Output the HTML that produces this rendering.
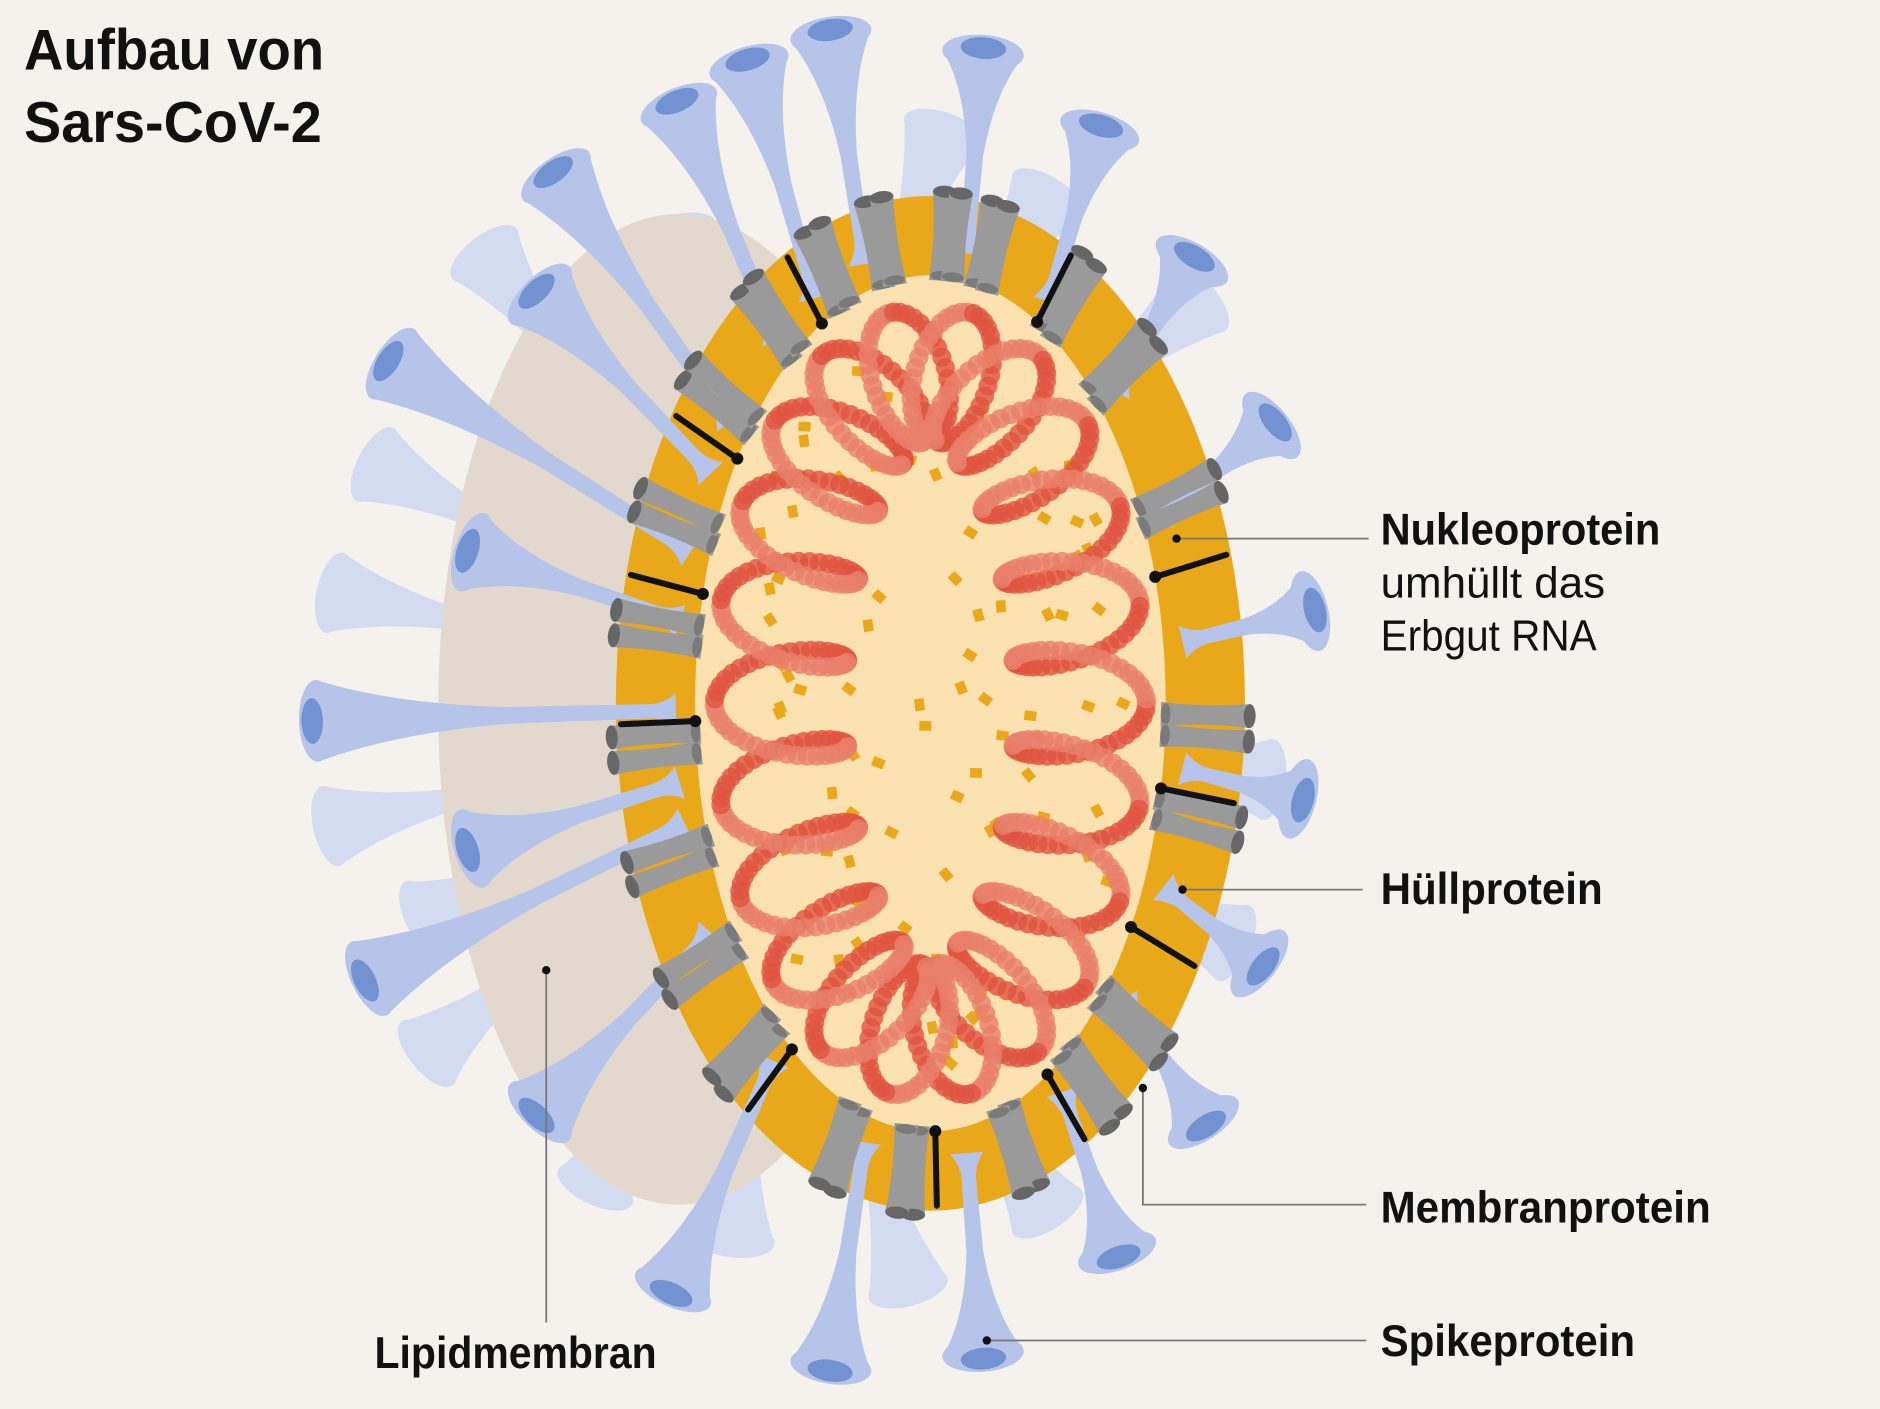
<!DOCTYPE html>
<html><head><meta charset="utf-8"><style>
html,body{margin:0;padding:0;background:#f5f2ee;}
svg{display:block}
text{font-family:"Liberation Sans Narrow","Liberation Sans",sans-serif;fill:#111}
.b{font-weight:bold}
</style></head><body>
<svg id="s" width="1880" height="1409" viewBox="0 0 1566 1172" preserveAspectRatio="none" xmlns="http://www.w3.org/2000/svg">
<rect width="1566" height="1172" fill="#f5f2ee"/>
<g id="back"></g>
<ellipse cx="565" cy="590" rx="200" ry="412" fill="#e2d8cd"/>
<ellipse cx="775" cy="585" rx="262" ry="422" fill="#e8a81a"/>
<g id="front"></g>
<ellipse cx="775" cy="585" rx="196" ry="356" fill="#fbe0b0"/>
<g id="fleck"></g>
<g id="prot"></g>
<g id="rna"></g>
<text x="20" y="58" font-size="48" class="b" textLength="250" lengthAdjust="spacingAndGlyphs">Aufbau von</text>
<text x="20" y="118" font-size="48" class="b" textLength="248" lengthAdjust="spacingAndGlyphs">Sars-CoV-2</text>
<g stroke="#777" stroke-width="1.5" fill="none">
<line x1="980" y1="448" x2="1140" y2="448"/>
<line x1="985" y1="740" x2="1135" y2="740"/>
<polyline points="952,905 952,1002 1138,1002"/>
<line x1="822" y1="1115" x2="1138" y2="1115"/>
<line x1="455" y1="807" x2="455" y2="1100"/>
</g>
<g fill="#111"><circle cx="980" cy="448" r="3.5"/><circle cx="985" cy="740" r="3.5"/><circle cx="952" cy="905" r="3.5"/><circle cx="822" cy="1115" r="3.5"/><circle cx="455" cy="807" r="3.5"/></g>
<text x="1150" y="453" font-size="37" class="b" textLength="233" lengthAdjust="spacingAndGlyphs">Nukleoprotein</text>
<text x="1150" y="497" font-size="36" textLength="187" lengthAdjust="spacingAndGlyphs">umhüllt das</text>
<text x="1150" y="541" font-size="36" textLength="180" lengthAdjust="spacingAndGlyphs">Erbgut RNA</text>
<text x="1150" y="752" font-size="37" class="b" textLength="185" lengthAdjust="spacingAndGlyphs">Hüllprotein</text>
<text x="1150" y="1017" font-size="37" class="b" textLength="275" lengthAdjust="spacingAndGlyphs">Membranprotein</text>
<text x="1150" y="1128" font-size="37" class="b" textLength="212" lengthAdjust="spacingAndGlyphs">Spikeprotein</text>
<text x="312" y="1138" font-size="37" class="b" textLength="235" lengthAdjust="spacingAndGlyphs">Lipidmembran</text>
</svg>
<script>
var NS="http://www.w3.org/2000/svg";
function el(p,t,a){var e=document.createElementNS(NS,t);for(var k in a)e.setAttribute(k,a[k]);p.appendChild(e);return e;}
var cx=775,cy=585;
function spike(g,bx,by,tx,ty,col,dark){
 var dx=tx-bx,dy=ty-by,L=Math.sqrt(dx*dx+dy*dy),ang=Math.atan2(dy,dx)*180/Math.PI;
 var gg=el(g,"g",{transform:"translate("+bx+","+by+") rotate("+ang+")"});
 var p="M0,-14 Q10,-6 22,-6 L"+(L*0.45)+",-7 Q"+(L*0.75)+",-12 "+(L-14)+",-34 L"+(L-14)+",34 Q"+(L*0.75)+",12 "+(L*0.45)+",7 L22,6 Q10,6 0,14Z";
 el(gg,"path",{d:p,fill:col});
 el(gg,"ellipse",{cx:L-14,cy:0,rx:15,ry:34,fill:col});
 if(dark)el(gg,"ellipse",{cx:L-10,cy:0,rx:9,ry:19,fill:dark});
}
var back=document.getElementById("back"),front=document.getElementById("front");
var bt=[[395,200],[560,180],[790,95],[880,150],[300,380],[265,490],[262,690],[340,770],[345,885],[490,1000],[610,1045],[760,1085],[880,1020],[1040,790],[1070,650],[1010,240],[520,300]];
bt.forEach(function(t){var bx=650+(t[0]-650)*0.35,by=590+(t[1]-590)*0.45;spike(back,bx,by,t[0],t[1],"#d3dbf0",null);});
var ft=[[455,135],[560,75],[620,40],[690,15],[820,30],[920,95],[1000,205],[1070,345],[1105,505],[1095,668],[1060,810],[1010,945],[935,1055],[820,1140],[690,1150],[555,1085],[440,935],[295,820],[380,710],[250,600],[380,455],[315,295],[440,235]];
ft.forEach(function(t){var dx=t[0]-cx,dy=t[1]-cy;var th=Math.atan2(dy/378,dx/212);var bx=cx+212*Math.cos(th),by=cy+378*Math.sin(th);spike(front,bx,by,t[0],t[1],"#b5c4e8","#7292d2");});
var seed=7;function rnd(){seed=(seed*16807)%2147483647;return seed/2147483647;}
var fl=document.getElementById("fleck");
for(var i=0;i<90;i++){var a=rnd()*6.283,r=Math.sqrt(rnd())*0.93;var x=cx+180*r*Math.cos(a),y=cy+340*r*Math.sin(a);
 el(fl,"rect",{x:x-5,y:y-4,width:10,height:8,fill:"#e8a81a",transform:"rotate("+(rnd()*90)+","+x+","+y+")"});}
var pr=document.getElementById("prot");
function pt(t,a,b){return [cx+a*Math.cos(t),cy+b*Math.sin(t)];}
var pts=[-1.95,-1.75,-1.5,-1.35,-1.05,-0.8,-0.45,0.05,0.25,0.75,0.95,1.25,1.65,1.9,2.3,2.55,2.8,3.05,3.3,3.55,3.85,4.1];
pts.forEach(function(t){[-0.025,0.025].forEach(function(o){var A=pt(t+o,192,352),B=pt(t+o,266,426);
 var dx=B[0]-A[0],dy=B[1]-A[1],L=Math.sqrt(dx*dx+dy*dy),ang=Math.atan2(dy,dx)*180/Math.PI;
 var g=el(pr,"g",{transform:"translate("+A[0]+","+A[1]+") rotate("+ang+")"});
 el(g,"path",{d:"M0,-10 Q"+L/2+",-6 "+L+",-10 L"+L+",10 Q"+L/2+",6 0,10Z",fill:"#9a9a9a"});
 el(g,"ellipse",{cx:L,cy:0,rx:5,ry:10,fill:"#666"});
 el(g,"ellipse",{cx:4,cy:0,rx:4,ry:9,fill:"#7a7a7a"});});});
[-2.05,-1.1,-0.3,0.2,0.55,1.05,1.55,2.2,3.1,3.4,3.75].forEach(function(t){var A=pt(t,196,356),B=pt(t,258,418);
 el(pr,"line",{x1:A[0],y1:A[1],x2:B[0],y2:B[1],stroke:"#111","stroke-width":5,"stroke-linecap":"round"});
 el(pr,"circle",{cx:A[0],cy:A[1],r:5,fill:"#111"});});
var rn=document.getElementById("rna");var k=22,N=2600;
for(var i=0;i<N;i++){var t=i/N*6.2832;var bx=cx+125*Math.cos(t),by=cy+275*Math.sin(t);
 var tx=-125*Math.sin(t),ty=275*Math.cos(t),tl=Math.sqrt(tx*tx+ty*ty);tx/=tl;ty/=tl;var nx=ty,ny=-tx;
 var c=Math.cos(k*t),s=Math.sin(k*t);var x=bx+nx*55*c+tx*22*s,y=by+ny*55*c+ty*22*s;
 if(i%3==0)el(rn,"circle",{cx:x,cy:y,r:8,fill:s>0?"#e05440":"#e8806a","fill-opacity":0.8});}
</script>
</body></html>
